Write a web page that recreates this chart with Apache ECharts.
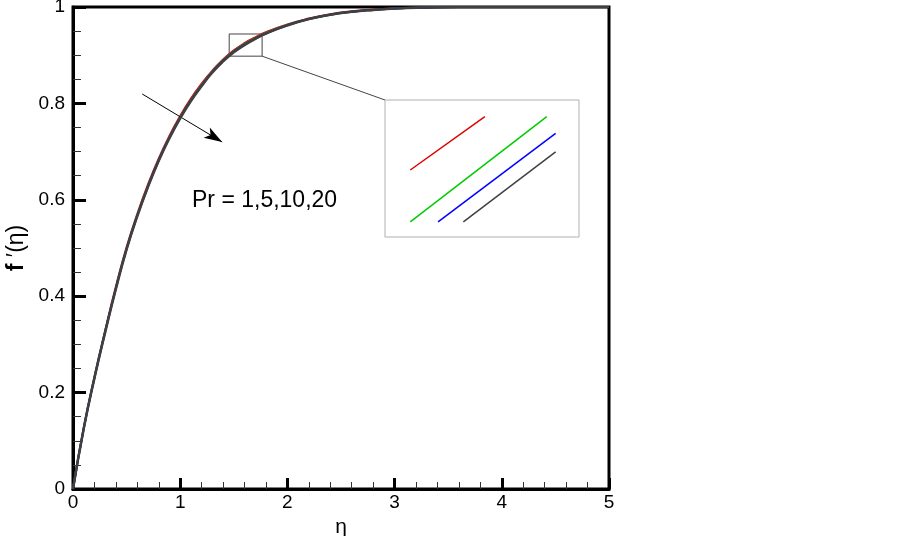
<!DOCTYPE html>
<html>
<head>
<meta charset="utf-8">
<title>f'(eta) for Pr</title>
<script src="https://cdn.jsdelivr.net/npm/echarts@6/dist/echarts.min.js"></script>
<style>
  html, body { margin: 0; padding: 0; background: #fff; }
  #main { width: 903px; height: 536px; }
</style>
</head>
<body>
<div id="main"></div>
<script>
// eta values
var eta = [0, 0.1, 0.2, 0.3, 0.4, 0.5, 0.6, 0.7, 0.8, 0.9, 1.0, 1.1, 1.2, 1.3, 1.4, 1.5, 1.6, 1.7, 1.8, 2.0, 2.2, 2.4, 2.6, 2.8, 3.0, 3.3, 3.6, 4.0, 4.5, 5.0];
var pr1  = [0, 0.127, 0.233, 0.329, 0.420, 0.502, 0.571, 0.632, 0.686, 0.733, 0.774, 0.810, 0.841, 0.868, 0.891, 0.910, 0.925, 0.937, 0.948, 0.964, 0.976, 0.985, 0.991, 0.995, 0.997, 0.999, 1.0, 1.0, 1.0, 1.0];
var pr5  = [0, 0.126, 0.231, 0.327, 0.417, 0.499, 0.568, 0.629, 0.683, 0.730, 0.771, 0.807, 0.838, 0.866, 0.889, 0.908, 0.923, 0.935, 0.946, 0.963, 0.975, 0.984, 0.990, 0.994, 0.997, 0.999, 1.0, 1.0, 1.0, 1.0];
var pr10 = [0, 0.125, 0.230, 0.326, 0.416, 0.498, 0.567, 0.628, 0.682, 0.729, 0.770, 0.806, 0.837, 0.865, 0.888, 0.907, 0.922, 0.934, 0.945, 0.962, 0.975, 0.984, 0.990, 0.994, 0.997, 0.999, 1.0, 1.0, 1.0, 1.0];
var pr20 = [0, 0.125, 0.230, 0.325, 0.415, 0.497, 0.566, 0.627, 0.681, 0.728, 0.769, 0.805, 0.836, 0.864, 0.887, 0.906, 0.921, 0.934, 0.945, 0.962, 0.975, 0.984, 0.990, 0.994, 0.997, 0.999, 1.0, 1.0, 1.0, 1.0];

// zoomed window (shown in the inset)
var zoomEta = [1.457, 1.764];
var zoomF = [0.898, 0.944];
var insetRed   = [[1.497, 0.9205], [1.615, 0.9384]];
var insetGreen = [[1.497, 0.9031], [1.713, 0.9384]];
var insetBlue  = [[1.541, 0.9031], [1.727, 0.9328]];
var insetGray  = [[1.581, 0.9031], [1.727, 0.9266]];

// arrow and connector annotations (data space)
var arrowFrom = [0.646, 0.8195];
var arrowTo = [1.391, 0.720];
var linkTo = [2.911, 0.807];

var colors = ['#dd0000', '#00cc00', '#0000ff', '#404040'];
var names = ['Pr=1', 'Pr=5', 'Pr=10', 'Pr=20'];
var curves = [pr1, pr5, pr10, pr20];
var insets = [insetRed, insetGreen, insetBlue, insetGray];

function zip(xs, ys) {
  return xs.map(function (x, i) { return [x, ys[i]]; });
}

var chart = echarts.init(document.getElementById('main'));
var font = 'Arial, "Liberation Sans", sans-serif';

var series = [];
curves.forEach(function (c, i) {
  series.push({
    name: names[i],
    type: 'line',
    xAxisIndex: 0, yAxisIndex: 0,
    data: zip(eta, c),
    smooth: true,
    showSymbol: false,
    lineStyle: { color: colors[i], width: i === 3 ? 2.5 : 2 },
    z: 3 + i
  });
});
insets.forEach(function (seg, i) {
  series.push({
    name: names[i] + ' (zoom)',
    type: 'line',
    xAxisIndex: 1, yAxisIndex: 1,
    data: seg,
    showSymbol: false,
    lineStyle: { color: colors[i], width: 1.5 },
    z: 10
  });
});
// annotations: zoom box, connector, arrow
series.push({
  type: 'line',
  xAxisIndex: 0, yAxisIndex: 0,
  data: [],
  markArea: {
    silent: true,
    itemStyle: { color: 'rgba(0,0,0,0)', borderColor: '#444', borderWidth: 1 },
    data: [[{ coord: [zoomEta[0], zoomF[1]] }, { coord: [zoomEta[1], zoomF[0]] }]]
  },
  markLine: {
    silent: true,
    symbol: ['none', 'none'],
    label: { show: false },
    data: [
      [{ coord: arrowFrom, lineStyle: { color: '#000', width: 1, type: 'solid' } },
       { coord: arrowTo, symbol: 'arrow', symbolSize: [9, 18] }],
      [{ coord: [zoomEta[1], zoomF[0]], lineStyle: { color: '#444', width: 1, type: 'solid' } },
       { coord: linkTo }]
    ]
  }
});

var option = {
  animation: false,
  grid: [
    { left: 73, top: 7, width: 536, height: 482, outerBoundsMode: 'none', containLabel: false,
      show: true, borderColor: '#000', borderWidth: 3, backgroundColor: 'transparent' },
    { left: 385, top: 100, width: 194, height: 137, outerBoundsMode: 'none', containLabel: false,
      show: true, borderColor: '#b0b0b0', borderWidth: 1, backgroundColor: '#fff', z: 8 }
  ],
  xAxis: [
    {
      gridIndex: 0, type: 'value', min: 0, max: 5, interval: 1,
      name: 'η', nameLocation: 'middle', nameGap: 26,
      nameTextStyle: { fontSize: 21, color: '#000', fontFamily: font },
      axisLine: { show: true, lineStyle: { color: '#000', width: 3 } },
      axisTick: { show: true, inside: true, length: 11, lineStyle: { color: '#000', width: 3 } },
      minorTick: { show: true, splitNumber: 5, length: 7, lineStyle: { color: '#333', width: 1 } },
      splitLine: { show: false },
      axisLabel: { fontSize: 19, color: '#000', margin: 4, fontFamily: font }
    },
    { gridIndex: 1, type: 'value', min: zoomEta[0], max: zoomEta[1], show: false }
  ],
  yAxis: [
    {
      gridIndex: 0, type: 'value', min: 0, max: 1, interval: 0.2,
      name: '{b|f} ′(η)', nameLocation: 'middle', nameGap: 44, nameRotate: 90,
      nameTextStyle: {
        fontSize: 23, color: '#000', fontFamily: font,
        rich: { b: { fontSize: 23, fontWeight: 'bold', fontFamily: font, color: '#000' } }
      },
      axisLine: { show: true, lineStyle: { color: '#000', width: 3 } },
      axisTick: { show: true, inside: true, length: 13, lineStyle: { color: '#000', width: 3 } },
      minorTick: { show: true, splitNumber: 4, length: 8, lineStyle: { color: '#333', width: 1 } },
      splitLine: { show: false },
      axisLabel: { fontSize: 19, color: '#000', margin: 8, fontFamily: font }
    },
    { gridIndex: 1, type: 'value', min: zoomF[0], max: zoomF[1], show: false }
  ],
  graphic: [
    {
      type: 'text', left: 192, top: 189,
      style: { text: 'Pr = 1,5,10,20', font: '23px ' + font, fill: '#000' }
    }
  ],
  series: series
};

chart.setOption(option);
</script>
</body>
</html>
